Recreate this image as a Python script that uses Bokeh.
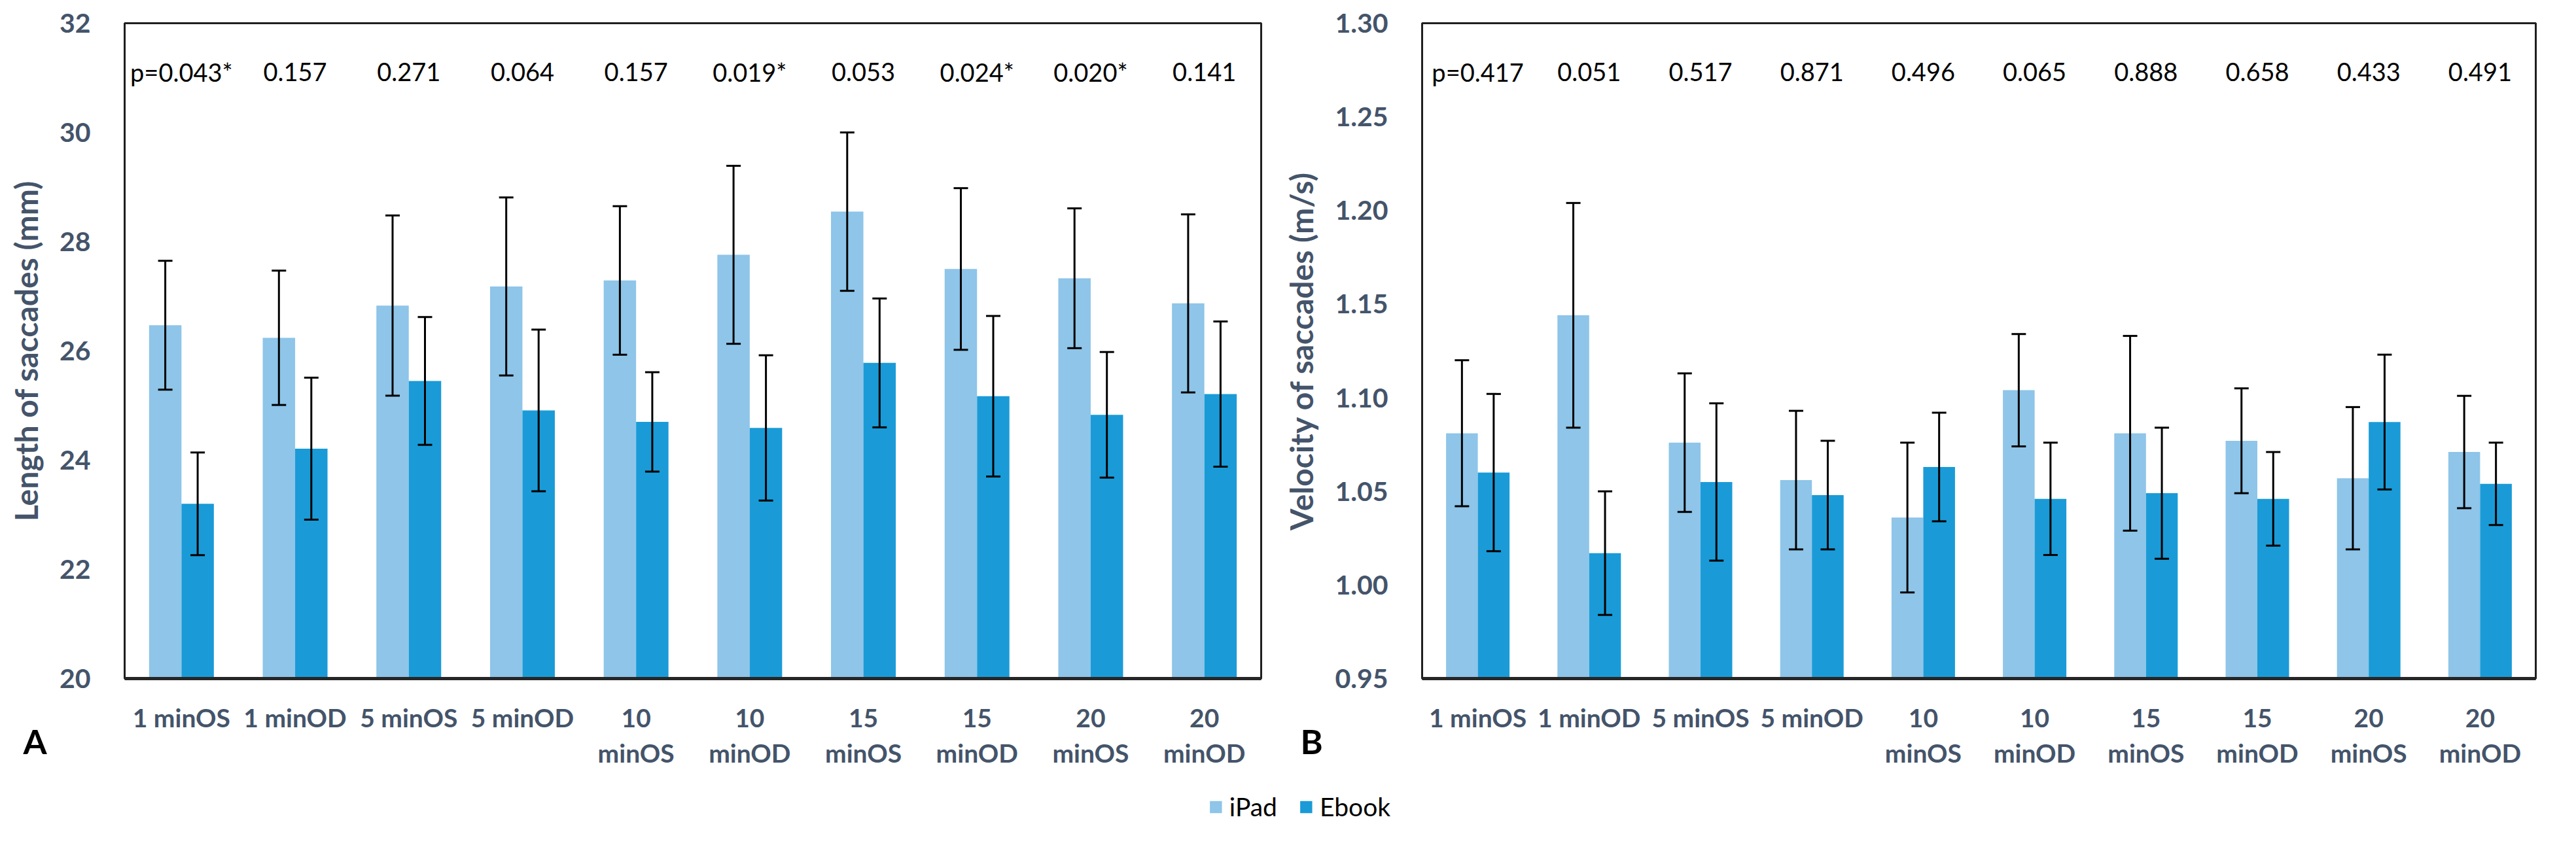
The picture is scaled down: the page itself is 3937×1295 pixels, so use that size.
from bokeh.plotting import figure
from bokeh.models import (FactorRange, Range1d, FixedTicker, NumeralTickFormatter,
                          Whisker, TeeHead, ColumnDataSource, Title, Legend, LegendItem)
from bokeh.transform import dodge
from bokeh.layouts import column, row
from bokeh.core.properties import value
from bokeh.embed import file_html
from bokeh.resources import INLINE

# ---------------- data ----------------
categories = ["1 minOS", "1 minOD", "5 minOS", "5 minOD", "10\nminOS", "10\nminOD",
              "15\nminOS", "15\nminOD", "20\nminOS", "20\nminOD"]
series = ["iPad", "Ebook"]

# Panel A: length of saccades (mm)
ipad_len = [26.47, 26.24, 26.83, 27.18, 27.29, 27.76, 28.55, 27.50, 27.33, 26.87]
ipad_len_sd = [1.18, 1.23, 1.65, 1.63, 1.36, 1.63, 1.45, 1.48, 1.28, 1.63]
ebook_len = [23.20, 24.21, 25.45, 24.91, 24.70, 24.59, 25.78, 25.17, 24.83, 25.21]
ebook_len_sd = [0.94, 1.30, 1.17, 1.48, 0.91, 1.33, 1.18, 1.47, 1.15, 1.33]
p_len = ["p=0.043*", "0.157", "0.271", "0.064", "0.157", "0.019*", "0.053", "0.024*", "0.020*", "0.141"]
ticks_len = [20, 22, 24, 26, 28, 30, 32]

# Panel B: velocity of saccades (m/s)
ipad_vel = [1.081, 1.144, 1.076, 1.056, 1.036, 1.104, 1.081, 1.077, 1.057, 1.071]
ipad_vel_sd = [0.039, 0.060, 0.037, 0.037, 0.040, 0.030, 0.052, 0.028, 0.038, 0.030]
ebook_vel = [1.060, 1.017, 1.055, 1.048, 1.063, 1.046, 1.049, 1.046, 1.087, 1.054]
ebook_vel_sd = [0.042, 0.033, 0.042, 0.029, 0.029, 0.030, 0.035, 0.025, 0.036, 0.022]
p_vel = ["p=0.417", "0.051", "0.517", "0.871", "0.496", "0.065", "0.888", "0.658", "0.433", "0.491"]
ticks_vel = [0.95, 1.00, 1.05, 1.10, 1.15, 1.20, 1.25, 1.30]

# ---------------- style ----------------
C_IPAD = "#8EC5E9"
C_EBOOK = "#1A9BD7"
AXIS_COL = "#44546A"
FONT = "Lato"
BAR_W = 0.285
OFF = 0.1425
FIG_H = 1202
B_TOP, B_BOT, B_RIGHT = 35, 165, 30


def panel(width, border_left, ipad, ipad_sd, ebook, ebook_sd, pvals, ticks, title,
          fmt, letter, letter_dx):
    lo, hi = ticks[0], ticks[-1]
    p = figure(x_range=FactorRange(*categories), y_range=Range1d(lo, hi),
               width=width, height=FIG_H, output_backend="svg", toolbar_location=None,
               min_border_left=border_left, min_border_right=B_RIGHT,
               min_border_top=B_TOP, min_border_bottom=B_BOT)
    src = ColumnDataSource(dict(
        cats=categories, ipad=ipad, ebook=ebook,
        ipad_hi=[m + s for m, s in zip(ipad, ipad_sd)],
        ipad_lo=[m - s for m, s in zip(ipad, ipad_sd)],
        ebook_hi=[m + s for m, s in zip(ebook, ebook_sd)],
        ebook_lo=[m - s for m, s in zip(ebook, ebook_sd)],
        pv=pvals, py=[hi - 0.074 * (hi - lo)] * len(categories)))

    p.vbar(x=dodge("cats", -OFF, range=p.x_range), top="ipad", bottom=lo,
           width=BAR_W, source=src, fill_color=C_IPAD, line_color=None)
    p.vbar(x=dodge("cats", OFF, range=p.x_range), top="ebook", bottom=lo,
           width=BAR_W, source=src, fill_color=C_EBOOK, line_color=None)

    for key, off in (("ipad", -OFF), ("ebook", OFF)):
        w = Whisker(source=src, base=dodge("cats", off, range=p.x_range),
                    upper=key + "_hi", lower=key + "_lo", level="annotation",
                    line_color="black", line_width=3,
                    upper_head=TeeHead(size=22, line_width=3, line_color="black"),
                    lower_head=TeeHead(size=22, line_width=3, line_color="black"))
        p.add_layout(w)

    p.text(x="cats", y="py", text="pv", source=src, text_align="center",
           text_baseline="middle", text_font=value(FONT), text_font_size="38px",
           text_color="black")

    p.xgrid.grid_line_color = None
    p.ygrid.grid_line_color = None
    p.outline_line_color = "#1f1f1f"
    p.outline_line_width = 3
    p.outline_line_alpha = 1

    p.yaxis.ticker = FixedTicker(ticks=ticks)
    p.yaxis.formatter = NumeralTickFormatter(format=fmt)
    p.yaxis.axis_line_color = None
    p.yaxis.major_tick_line_color = None
    p.yaxis.minor_tick_line_color = None
    p.yaxis.major_label_standoff = 46
    p.yaxis.axis_label = title
    p.yaxis.axis_label_standoff = 20

    p.xaxis.axis_line_color = "#262626"
    p.xaxis.axis_line_width = 5
    p.xaxis.major_tick_line_color = None
    p.xaxis.minor_tick_line_color = None
    p.xaxis.major_label_standoff = 30
    p.xaxis.major_label_text_line_height = 1.18

    for ax in (p.xaxis[0], p.yaxis[0]):
        ax.major_label_text_font = FONT
        ax.major_label_text_font_style = "bold"
        ax.major_label_text_color = AXIS_COL
        ax.axis_label_text_font = FONT
        ax.axis_label_text_font_style = "bold"
        ax.axis_label_text_font_size = "48px"
        ax.axis_label_text_color = AXIS_COL
    p.xaxis.major_label_text_font_size = "39px"
    p.yaxis.major_label_text_font_size = "41px"

    # panel letter, below-left of the frame
    p.add_layout(Title(text=letter, align="left", offset=-letter_dx, standoff=-150,
                       vertical_align="top", text_font=FONT, text_font_style="bold",
                       text_font_size="52px", text_color="black"), "below")
    return p


pA = panel(1957, 190, ipad_len, ipad_len_sd, ebook_len, ebook_len_sd, p_len,
           ticks_len, "Length of saccades (mm)", "0", "A", 155)
pB = panel(1948, 216, ipad_vel, ipad_vel_sd, ebook_vel, ebook_vel_sd, p_vel,
           ticks_vel, "Velocity of saccades (m/s)", "0.00", "B", 186)

# legend strip: zero-width swatch renderers carrying the two series
pl = figure(width=3905, height=62, output_backend="svg", toolbar_location=None,
            x_range=FactorRange(*categories), y_range=Range1d(0, 1),
            x_axis_type=None, y_axis_type=None,
            min_border_left=66, min_border_right=0, min_border_top=0, min_border_bottom=0)
pl.outline_line_color = None
pl.xgrid.grid_line_color = None
pl.ygrid.grid_line_color = None
r1 = pl.vbar(x=categories, top=ipad_len, bottom=ticks_len[0], width=0,
             fill_color=C_IPAD, line_color=None)
r2 = pl.vbar(x=categories, top=ebook_len, bottom=ticks_len[0], width=0,
             fill_color=C_EBOOK, line_color=None)
leg = Legend(items=[LegendItem(label=series[0], renderers=[r1]),
                    LegendItem(label=series[1], renderers=[r2])],
             location="center", orientation="horizontal",
             glyph_width=23, glyph_height=23, label_standoff=10, spacing=32,
             label_text_font=FONT, label_text_font_size="39px", label_text_color="black",
             border_line_color=None, background_fill_alpha=0, padding=0, margin=0)
pl.add_layout(leg, "center")

layout = column(row(pA, pB), pl)
open("out.html", "w").write(file_html(layout, INLINE))
